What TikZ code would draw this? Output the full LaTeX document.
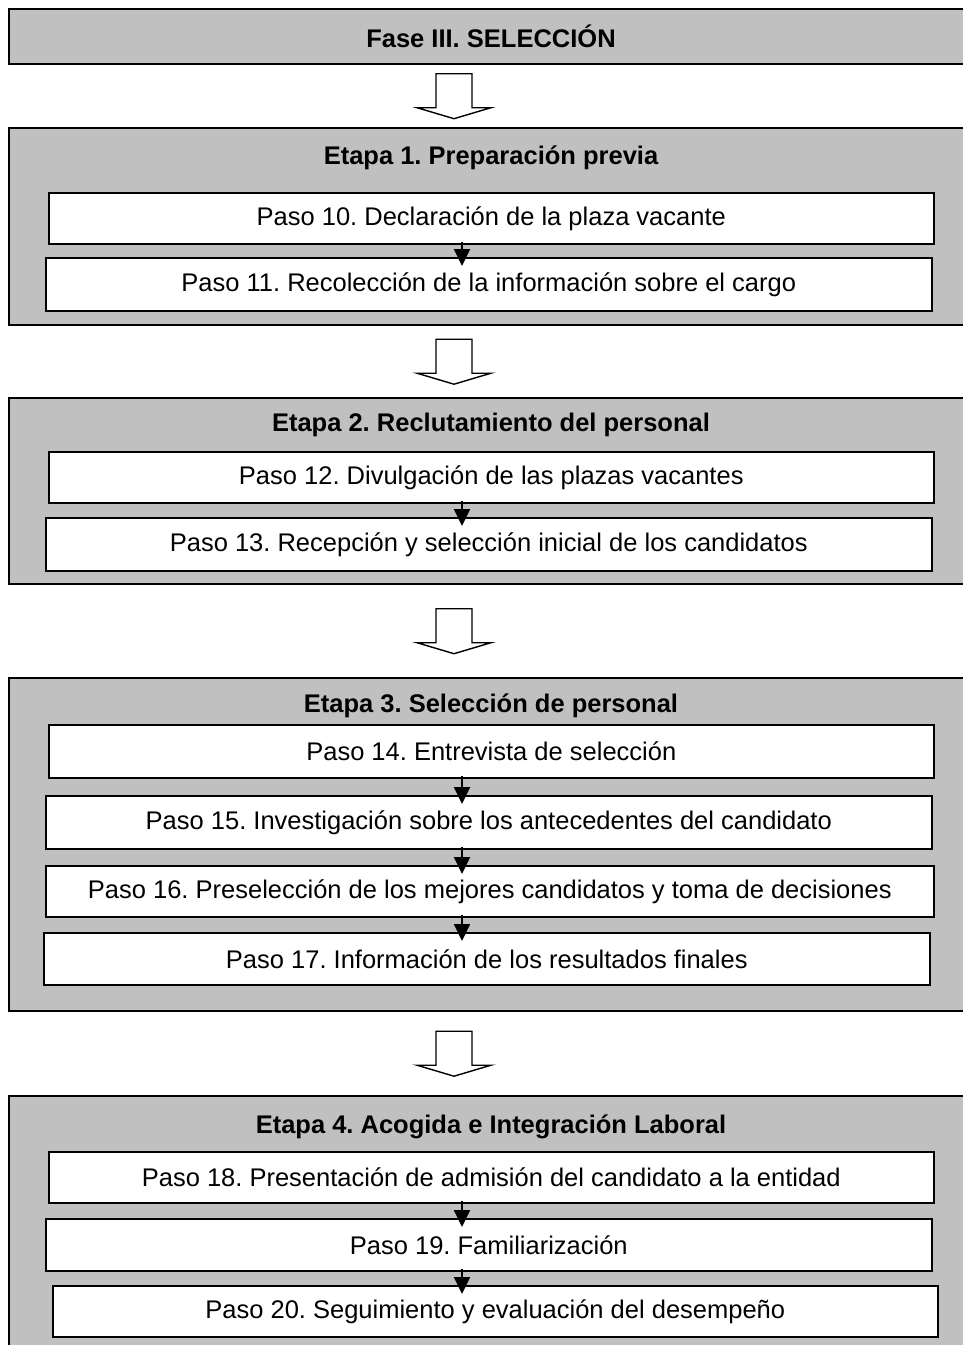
\documentclass[tikz,border=0pt]{standalone}
\usepackage{fontspec}
\setmainfont{Liberation Sans}
\usetikzlibrary{arrows.meta,calc}
\definecolor{fondo}{HTML}{C0C0C0}
\frenchspacing

\begin{document}
\begin{tikzpicture}[x=1pt,y=-1pt,
  etapa/.style={draw=black,line width=2.4pt,fill=fondo,anchor=north west,inner sep=0pt},
  paso/.style={draw=black,line width=1.6pt,fill=white,anchor=north west,inner sep=0pt,
    font=\fontsize{25.5}{30}\selectfont},
  titulo/.style={font=\bfseries\fontsize{25.5}{30}\selectfont},
  flecha/.style={-{Triangle[length=17pt,width=16pt]},line width=2pt,shorten <=-3pt,shorten >=-9pt},
  hueca/.style={draw=black,line width=1.4pt,fill=white,line join=miter}]
  \useasboundingbox (0,0) rectangle (963,1345);
  \coordinate (eje) at (462,0);
  \coordinate (ejeb) at (454,0);

  % fase
  \node[etapa,minimum width=960,minimum height=55] (fase) at (8,8) {};
  \node[titulo] (tf) at (491,36) {Fase III. SELECCIÓN};

  % etapa 1
  \node[etapa,minimum width=960,minimum height=197] (e1) at (8,127) {};
  \node[titulo] (t1) at (491,158) {Etapa 1. Preparación previa};
  \node[paso,minimum width=885,minimum height=51] (p10) at (48,192) {Paso 10. Declaración de la plaza vacante};
  \node[paso,minimum width=886,minimum height=53] (p11) at (45,257) {Paso 11. Recolección de la información sobre el cargo};

  % etapa 2
  \node[etapa,minimum width=960,minimum height=186] (e2) at (8,397) {};
  \node[titulo] (t2) at (491,425) {Etapa 2. Reclutamiento del personal};
  \node[paso,minimum width=885,minimum height=51] (p12) at (48,451) {Paso 12. Divulgación de las plazas vacantes};
  \node[paso,minimum width=886,minimum height=53] (p13) at (45,517) {Paso 13. Recepción y selección inicial de los candidatos};

  % etapa 3
  \node[etapa,minimum width=960,minimum height=333] (e3) at (8,677) {};
  \node[titulo] (t3) at (491,706) {Etapa 3. Selección de personal};
  \node[paso,minimum width=885,minimum height=53] (p14) at (48,724) {Paso 14. Entrevista de selección};
  \node[paso,minimum width=886,minimum height=53] (p15) at (45,795) {Paso 15. Investigación sobre los antecedentes del candidato};
  \node[paso,minimum width=888,minimum height=51] (p16) at (45,865) {Paso 16. Preselección de los mejores candidatos y toma de decisiones};
  \node[paso,minimum width=886,minimum height=52] (p17) at (43,932) {Paso 17. Información de los resultados finales};

  % etapa 4
  \node[etapa,minimum width=960,minimum height=270] (e4) at (8,1095) {};
  \node[titulo] (t4) at (491,1127) {Etapa 4. Acogida e Integración Laboral};
  \node[paso,minimum width=885,minimum height=51] (p18) at (48,1151) {Paso 18. Presentación de admisión del candidato a la entidad};
  \node[paso,minimum width=886,minimum height=52] (p19) at (45,1218) {Paso 19. Familiarización};
  \node[paso,minimum width=885,minimum height=51] (p20) at (52,1285) {Paso 20. Seguimiento y evaluación del desempeño};

  % flechas entre pasos
  \foreach \a/\b in {p10/p11,p12/p13,p14/p15,p15/p16,p16/p17,p18/p19,p19/p20}
    \draw[flecha] (\a.south -| eje) -- (\b.north -| eje);

  % flechas huecas entre etapas
  \foreach \a/\b in {fase/e1,e1/e2,e2/e3,e3/e4}
    \draw[hueca] ($(\a.south -| ejeb)!0.5!(\b.north -| ejeb)$) ++(-18,-22.5) -- ++(0,34) -- ++(-19,0)
      -- ++(37,11) -- ++(37,-11) -- ++(-19,0) -- ++(0,-34) -- cycle;
\end{tikzpicture}
\end{document}
